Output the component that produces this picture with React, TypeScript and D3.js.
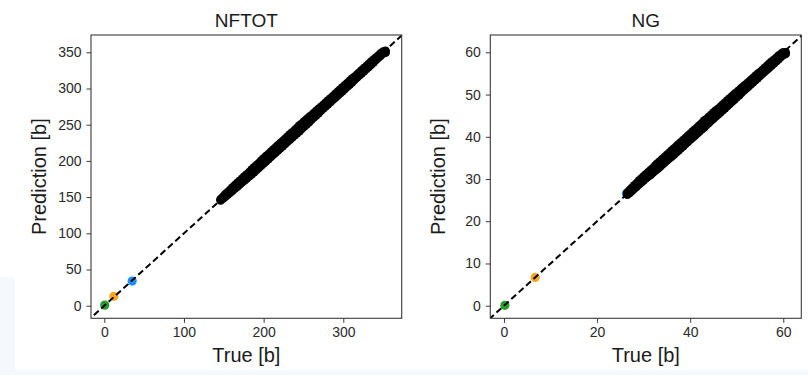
import React, { useEffect, useRef } from "react";
import * as d3 from "d3";

// NFTOT panel: the dense cloud is listed as an upper and a lower edge row
const nftotTrue = [146, 149, 152, 155, 158, 161, 164, 167, 170, 173, 176, 179, 182, 185, 188, 191, 194, 197, 200, 203, 206, 209, 212, 215, 218, 221, 224, 227, 230, 233, 236, 239, 242, 245, 248, 251, 254, 257, 260, 263, 266, 269, 272, 275, 278, 281, 284, 287, 290, 293, 296, 299, 302, 305, 308, 311, 314, 317, 320, 323, 326, 329, 332, 335, 338, 341, 344, 347, 350, 353];
const nftotPredHi = [147, 150.5, 154, 157, 160, 163.5, 166.5, 169.5, 172.5, 175.5, 178.5, 181.5, 184.5, 188, 191, 194, 197, 200.5, 203.5, 206.5, 209.5, 212.5, 215.5, 218.5, 221.5, 224.5, 227.5, 230.5, 233.5, 236.5, 239.5, 242.5, 245.5, 249, 251.5, 254.5, 257.5, 260.5, 263, 266, 269, 272, 274.5, 277.5, 280.5, 283.5, 286.5, 289.5, 292.5, 295.5, 298.5, 301.5, 304.5, 307.5, 310.5, 313.5, 316, 319, 322, 325, 328, 331, 334, 337, 340, 342.5, 345.5, 348.5, 351, 352];
const nftotPredLo = [145.5, 148, 150.5, 153.5, 156, 159, 162, 164.5, 167.5, 170.5, 173, 176, 179, 181.5, 184.5, 187.5, 190.5, 193.5, 196.5, 199.5, 202.5, 205.5, 208.5, 211.5, 214.5, 217.5, 220.5, 223.5, 226.5, 229.5, 232.5, 235.5, 238.5, 241, 244.5, 247.5, 250.5, 253.5, 257, 260, 263, 266, 269.5, 272.5, 275.5, 278.5, 281.5, 284.5, 287.5, 290.5, 293.5, 296.5, 299.5, 302.5, 305.5, 308.5, 312, 315, 318, 321, 324, 327, 330, 333, 336, 339.5, 342.5, 345.5, 348.5, 349.5];
const nftotSpecial = [
  { t: 0.5, p: 0.8, color: "#2a9d2a" },
  { t: 12, p: 13, color: "#ffa51f" },
  { t: 35, p: 34, color: "#1e8fff" },
];
const nftotXTicks = [0, 100, 200, 300];
const nftotYTicks = [0, 50, 100, 150, 200, 250, 300, 350];

// NG panel
const ngTrue = [26.5, 27.0, 27.5, 28.0, 28.5, 29.0, 29.5, 30.0, 30.5, 31.0, 31.5, 32.0, 32.5, 33.0, 33.5, 34.0, 34.5, 35.0, 35.5, 36.0, 36.5, 37.0, 37.5, 38.0, 38.5, 39.0, 39.5, 40.0, 40.5, 41.0, 41.5, 42.0, 42.5, 43.0, 43.5, 44.0, 44.5, 45.0, 45.5, 46.0, 46.5, 47.0, 47.5, 48.0, 48.5, 49.0, 49.5, 50.0, 50.5, 51.0, 51.5, 52.0, 52.5, 53.0, 53.5, 54.0, 54.5, 55.0, 55.5, 56.0, 56.5, 57.0, 57.5, 58.0, 58.5, 59.0, 59.5, 60.0, 60.5];
const ngPredHi = [26.8, 27.4, 27.9, 28.5, 29.0, 29.6, 30.1, 30.6, 31.1, 31.6, 32.1, 32.6, 33.2, 33.7, 34.2, 34.7, 35.2, 35.7, 36.2, 36.7, 37.2, 37.7, 38.2, 38.7, 39.2, 39.7, 40.2, 40.7, 41.2, 41.7, 42.2, 42.7, 43.2, 43.8, 44.2, 44.7, 45.2, 45.7, 46.2, 46.6, 47.1, 47.6, 48.1, 48.6, 49.1, 49.6, 50.1, 50.5, 51.0, 51.5, 52.0, 52.4, 52.9, 53.4, 53.9, 54.4, 54.9, 55.3, 55.8, 56.3, 56.8, 57.3, 57.8, 58.2, 58.7, 59.2, 59.6, 60.0, 60.0];
const ngPredLo = [26.3, 26.7, 27.2, 27.7, 28.2, 28.7, 29.2, 29.7, 30.2, 30.6, 31.0, 31.5, 32.0, 32.4, 32.9, 33.4, 33.9, 34.4, 34.9, 35.3, 35.8, 36.3, 36.8, 37.3, 37.8, 38.3, 38.8, 39.3, 39.8, 40.3, 40.8, 41.3, 41.8, 42.2, 42.8, 43.3, 43.8, 44.3, 44.8, 45.3, 45.8, 46.3, 46.8, 47.3, 47.8, 48.3, 48.8, 49.4, 49.8, 50.4, 50.9, 51.4, 51.9, 52.4, 52.9, 53.4, 53.9, 54.4, 54.9, 55.4, 55.9, 56.4, 56.9, 57.4, 57.9, 58.4, 58.9, 59.4, 59.6];
const ngSpecial = [
  { t: 0.2, p: 0.1, color: "#2a9d2a" },
  { t: 6.7, p: 6.7, color: "#ffa51f" },
  { t: 26.3, p: 26.5, color: "#1e8fff" },
];
const ngXTicks = [0, 20, 40, 60];
const ngYTicks = [0, 10, 20, 30, 40, 50, 60];

const panels = [
  {
    id: "nftot", title: "NFTOT", left: 91, right: 401.7,
    xDomain: [-16.7, 373.3], yDomain: [-17.4, 373.9],
    trueVals: nftotTrue, predRows: [nftotPredHi, nftotPredLo], special: nftotSpecial,
    xTicks: nftotXTicks, yTicks: nftotYTicks,
  },
  {
    id: "ng", title: "NG", left: 490.3, right: 801.3,
    xDomain: [-2.94, 63.87], yDomain: [-2.98, 64.1],
    trueVals: ngTrue, predRows: [ngPredHi, ngPredLo], special: ngSpecial,
    xTicks: ngXTicks, yTicks: ngYTicks,
  },
];

const App = () => {
  const svgRef = useRef(null);
  const width = 808;
  const height = 375;
  const top = 35;
  const bottom = 318.3;
  const font = "'Liberation Sans', Arial, sans-serif";

  useEffect(() => {
    const svg = d3.select(svgRef.current).attr("width", width).attr("height", height);
    svg.selectAll("*").remove();

    // faint page background at the bottom-left
    svg.append("rect").attr("width", width).attr("height", height).attr("fill", "#f5f8fc");
    svg.append("rect").attr("width", width).attr("height", 277).attr("fill", "#fff");
    svg.append("rect").attr("x", 15).attr("width", width - 15).attr("height", 370).attr("fill", "#fff");

    panels.forEach((pn) => {
      const x = d3.scaleLinear().domain(pn.xDomain).range([pn.left, pn.right]);
      const y = d3.scaleLinear().domain(pn.yDomain).range([bottom, top]);

      svg.append("clipPath").attr("id", `clip-${pn.id}`)
        .append("rect")
        .attr("x", pn.left).attr("y", top)
        .attr("width", pn.right - pn.left).attr("height", bottom - top);

      const g = svg.append("g").attr("clip-path", `url(#clip-${pn.id})`);

      pn.special.forEach((d) => {
        g.append("circle")
          .attr("cx", x(d.t)).attr("cy", y(d.p)).attr("r", 4.6)
          .attr("fill", d.color);
      });

      // identity line
      const lo = Math.min(pn.xDomain[0], pn.yDomain[0]) - 5;
      const hi = Math.max(pn.xDomain[1], pn.yDomain[1]) + 5;
      g.append("line")
        .attr("x1", x(lo)).attr("y1", y(lo))
        .attr("x2", x(hi)).attr("y2", y(hi))
        .attr("stroke", "#000").attr("stroke-width", 2)
        .attr("stroke-dasharray", "6.5,3.5");

      pn.predRows.forEach((row) => {
        pn.trueVals.forEach((t, i) => {
          g.append("circle")
            .attr("cx", x(t)).attr("cy", y(row[i])).attr("r", 4.4)
            .attr("fill", "#000");
        });
      });

      // frame
      svg.append("rect")
        .attr("x", pn.left).attr("y", top)
        .attr("width", pn.right - pn.left).attr("height", bottom - top)
        .attr("fill", "none").attr("stroke", "#3a3a3a").attr("stroke-width", 1.1);

      const xAxis = svg.append("g")
        .attr("transform", `translate(0,${bottom})`)
        .call(d3.axisBottom(x).tickValues(pn.xTicks).tickSize(4.5).tickPadding(4).tickFormat(d3.format("d")));
      const yAxis = svg.append("g")
        .attr("transform", `translate(${pn.left},0)`)
        .call(d3.axisLeft(y).tickValues(pn.yTicks).tickSize(4.5).tickPadding(5).tickFormat(d3.format("d")));
      [xAxis, yAxis].forEach((ax) => {
        ax.select(".domain").remove();
        ax.selectAll("line").attr("stroke", "#3a3a3a").attr("stroke-width", 1);
        ax.selectAll("text")
          .attr("fill", "#2a2a2a")
          .style("font-family", font)
          .style("font-size", "14px");
      });

      const cx = (pn.left + pn.right) / 2;
      svg.append("text")
        .attr("x", cx).attr("y", 27)
        .attr("text-anchor", "middle")
        .style("font-family", font).style("font-size", "19px")
        .attr("fill", "#1a1a1a")
        .text(pn.title);

      svg.append("text")
        .attr("x", cx).attr("y", 361.5)
        .attr("text-anchor", "middle")
        .style("font-family", font).style("font-size", "20px")
        .attr("fill", "#1a1a1a")
        .text("True [b]");

      svg.append("text")
        .attr("transform", `translate(${pn.left - 45},${(top + bottom) / 2}) rotate(-90)`)
        .attr("text-anchor", "middle")
        .style("font-family", font).style("font-size", "20px")
        .attr("fill", "#1a1a1a")
        .text("Prediction [b]");
    });
  }, []);

  return <svg ref={svgRef} style={{ position: "absolute", left: 0, top: 0 }}></svg>;
};

export default App;
